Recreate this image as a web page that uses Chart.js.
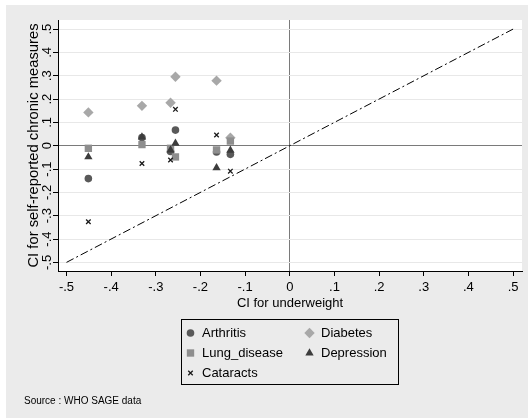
<!DOCTYPE html>
<html><head><meta charset="utf-8">
<style>html,body{margin:0;padding:0;background:#fff;}canvas{display:block;}</style>
<script src="https://cdn.jsdelivr.net/npm/chart.js"></script>
</head><body>
<canvas id="c" width="528" height="418"></canvas>
<script>
// ---- data ----
const underweightCI = [-0.451, -0.331, -0.267, -0.256, -0.164, -0.133];
const arthritis   = [-0.141, 0.035, -0.025, 0.067, -0.027, -0.037];
const diabetes    = [0.143, 0.171, 0.184, 0.296, 0.279, 0.034];
const lungDisease = [-0.011, 0.005, -0.011, -0.048, -0.018, 0.020];
const depression  = [-0.048, 0.037, -0.019, 0.010, -0.095, -0.020];
const cataracts   = [-0.326, -0.076, -0.061, 0.156, 0.046, -0.109];
const seriesNames = ['Arthritis', 'Diabetes', 'Lung_disease', 'Depression', 'Cataracts'];
const xTicks = [-0.5, -0.4, -0.3, -0.2, -0.1, 0, 0.1, 0.2, 0.3, 0.4, 0.5];
const yTicks = [-0.5, -0.4, -0.3, -0.2, -0.1, 0, 0.1, 0.2, 0.3, 0.4, 0.5];
const diagonalEnds = [-0.5, 0.5];
const xTitle = 'CI for underweight';
const yTitle = 'CI for self-reported chronic measures';
const sourceNote = 'Source : WHO SAGE data';

const FONT = '"Liberation Sans", Arial, Helvetica, sans-serif';
const pts = vals => underweightCI.map((x, i) => ({x: x, y: vals[i]}));
const fmt = v => { if (Math.abs(v) < 1e-9) return '0'; return v.toFixed(1).replace('0.', '.'); };

const styles = {
  Arthritis:    {pointStyle: 'circle',   radius: 3.8, bg: '#595959', border: '#595959', bw: 0, order: 5},
  Diabetes:     {pointStyle: 'rectRot',  radius: 5.2, bg: '#a8a8a8', border: '#a8a8a8', bw: 0, order: 4},
  Lung_disease: {pointStyle: 'rect',     radius: 5.2, bg: '#8e8e8e', border: '#8e8e8e', bw: 0, order: 3},
  Depression:   {pointStyle: 'triangle', radius: 4.8, bg: '#3c3c3c', border: '#3c3c3c', bw: 0, order: 2},
  Cataracts:    {pointStyle: 'crossRot', radius: 3.2, bg: '#1a1a1a', border: '#1a1a1a', bw: 1.3, order: 1}
};
const seriesValues = {Arthritis: arthritis, Diabetes: diabetes, Lung_disease: lungDisease, Depression: depression, Cataracts: cataracts};

const datasets = seriesNames.map(n => ({
  type: 'scatter', label: n, data: pts(seriesValues[n]),
  pointStyle: styles[n].pointStyle, pointRadius: styles[n].radius, pointHoverRadius: styles[n].radius,
  backgroundColor: styles[n].bg, borderColor: styles[n].border, borderWidth: styles[n].bw, order: styles[n].order
}));
datasets.push({
  type: 'line', label: 'diag', data: diagonalEnds.map(v => ({x: v, y: v})),
  borderColor: '#000', borderWidth: 1, borderDash: [8, 3, 2, 3], pointRadius: 0, fill: false, order: 10
});

const bgPlugin = {
  id: 'bg',
  beforeDraw(chart) {
    const {ctx, chartArea: a, width, height} = chart;
    ctx.save();
    ctx.fillStyle = '#ffffff'; ctx.fillRect(0, 0, width, height);
    ctx.fillStyle = '#ebebeb'; ctx.fillRect(6, 5, width - 6, height - 5);
    ctx.fillStyle = '#ffffff'; ctx.fillRect(a.left, a.top, a.right - a.left, a.bottom - a.top);
    ctx.restore();
  }
};

function marker(ctx, st, x, y) {
  ctx.save();
  ctx.fillStyle = st.bg; ctx.strokeStyle = st.border; ctx.lineWidth = st.bw;
  if (Chart.helpers && Chart.helpers.drawPoint) {
    Chart.helpers.drawPoint(ctx, {pointStyle: st.pointStyle, radius: st.radius, rotation: 0, borderWidth: st.bw}, x, y);
  }
  ctx.restore();
}

const legendPlugin = {
  id: 'customLegend',
  afterDraw(chart) {
    const ctx = chart.ctx;
    ctx.save();
    ctx.strokeStyle = '#000'; ctx.lineWidth = 1;
    ctx.strokeRect(181.5, 319.5, 217, 65);
    ctx.font = '13px ' + FONT; ctx.fillStyle = '#000'; ctx.textBaseline = 'middle'; ctx.textAlign = 'left';
    const layout = [
      ['Arthritis', 190.5, 333], ['Diabetes', 309.5, 333],
      ['Lung_disease', 190.5, 353], ['Depression', 309.5, 353],
      ['Cataracts', 190.5, 373]
    ];
    layout.forEach(([n, x, y]) => {
      marker(ctx, styles[n], x, y);
      ctx.fillStyle = '#000';
      ctx.fillText(n, x + 11.5, y);
    });
    ctx.font = '10px ' + FONT;
    ctx.fillText(sourceNote, 24, 401);
    ctx.restore();
  }
};

new Chart(document.getElementById('c'), {
  type: 'scatter',
  data: {datasets},
  plugins: [bgPlugin, legendPlugin],
  options: {
    responsive: false, animation: false, devicePixelRatio: 1,
    layout: {padding: {left: 0, top: 20, right: 6, bottom: 102}},
    plugins: {legend: {display: false}, tooltip: {enabled: false}},
    scales: {
      x: {
        type: 'linear', position: 'bottom', min: -0.519, max: 0.52,
        afterBuildTicks: s => { s.ticks = xTicks.map(v => ({value: v})); },
        afterFit: s => { s.height = 45; },
        border: {color: '#000', width: 1},
        grid: {color: c => (c.tick && Math.abs(c.tick.value) < 1e-9) ? '#7a7a7a' : 'rgba(0,0,0,0)', tickColor: '#000', tickLength: 5, lineWidth: 1},
        ticks: {color: '#000', font: {family: FONT, size: 13}, padding: 4, maxRotation: 0, minRotation: 0, autoSkip: false, callback: v => fmt(v)},
        title: {display: true, text: xTitle, color: '#000', font: {family: FONT, size: 13}, padding: {top: 0, bottom: 5}}
      },
      y: {
        type: 'linear', position: 'left', min: -0.537, max: 0.539,
        afterBuildTicks: s => { s.ticks = yTicks.map(v => ({value: v})); },
        afterFit: s => { s.width = 58; },
        border: {color: '#000', width: 1},
        grid: {color: c => (c.tick && Math.abs(c.tick.value) < 1e-9) ? '#7a7a7a' : '#e8e8e8', tickColor: '#000', tickLength: 5, lineWidth: 1},
        ticks: {color: '#000', font: {family: FONT, size: 13}, padding: -2, minRotation: 90, maxRotation: 90, crossAlign: 'center', autoSkip: false, callback: v => fmt(v)},
        title: {display: true, text: yTitle, color: '#000', font: {family: FONT, size: 14.8}, padding: {top: 25, bottom: 0}}
      }
    }
  }
});
</script>
</body></html>
